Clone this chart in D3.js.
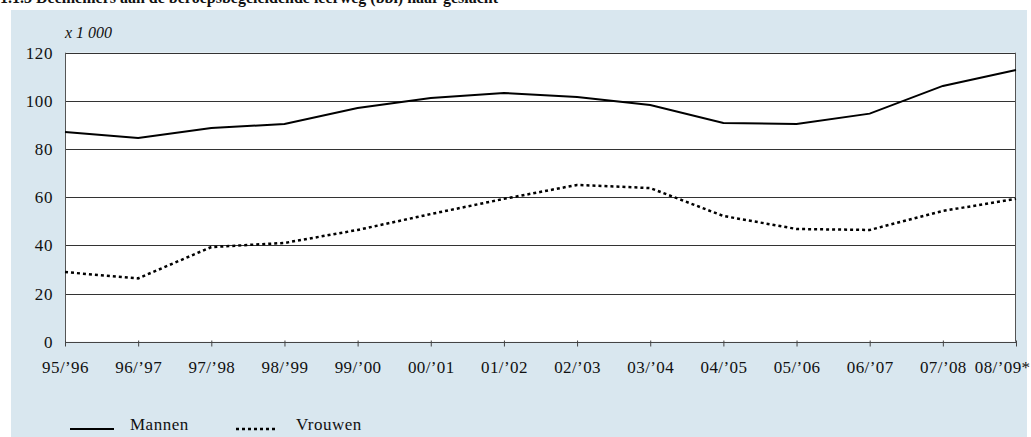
<!DOCTYPE html>
<html><head><meta charset="utf-8">
<script src="https://cdn.jsdelivr.net/npm/d3@7"></script>
<style>
body{margin:0;background:#fff;}
svg{display:block;font-family:"Liberation Serif","DejaVu Serif",serif;}
</style></head>
<body><svg id="c" width="1031" height="437"></svg>
<script>
const categories = ["95/\u201996","96/\u201997","97/\u201998","98/\u201999","99/\u201900","00/\u201901","01/\u201902","02/\u201903","03/\u201904","04/\u201905","05/\u201906","06/\u201907","07/\u201908","08/\u201909*"];
const mannen = [87.1,84.6,88.7,90.4,97.0,101.2,103.3,101.6,98.3,90.8,90.4,94.7,106.2,112.8];
const vrouwen = [28.9,26.3,39.3,41.0,46.4,53.0,59.3,65.1,63.8,52.2,46.8,46.4,54.3,59.3];
const yTicks = [0,20,40,60,80,100,120];
const title = "1.1.3 Deelnemers aan de beroepsbegeleidende leerweg (bbl) naar geslacht";

const svg = d3.select("#c");
svg.append("rect").attr("x",11).attr("y",10).attr("width",1016).attr("height",427).attr("fill","#d9e7ef");
svg.append("text").attr("x",0).attr("y",3).attr("font-size",16).attr("font-weight","bold").attr("fill","#111").text(title);

const L=65,R=1016,T=52.7,B=341.7;
const x = d3.scalePoint().domain(categories).range([L,R]);
const y = d3.scaleLinear().domain([0,120]).range([B,T]);

svg.append("rect").attr("x",L).attr("y",T).attr("width",R-L).attr("height",B-T).attr("fill","#fff");

svg.append("g").selectAll("line").data(yTicks.filter(d=>d>0)).enter().append("line")
  .attr("x1",L).attr("x2",R).attr("y1",d=>Math.round(y(d))+0.5).attr("y2",d=>Math.round(y(d))+0.5)
  .attr("stroke","#333").attr("stroke-width",1);

svg.append("line").attr("x1",L+0.5).attr("x2",L+0.5).attr("y1",T).attr("y2",B).attr("stroke","#555");
svg.append("line").attr("x1",R-0.5).attr("x2",R-0.5).attr("y1",T).attr("y2",B).attr("stroke","#555");

svg.append("g").selectAll("text").data(yTicks).enter().append("text")
  .attr("x",53).attr("y",d=>y(d)+6).attr("text-anchor","end").attr("font-size",17)
  .attr("letter-spacing","0.6").attr("fill","#111").text(d=>d);

const xa = svg.append("g").attr("transform",`translate(0,${Math.round(B)+0.5})`)
  .call(d3.axisBottom(x).tickSize(6).tickPadding(12).tickSizeOuter(0));
xa.select(".domain").attr("stroke","#444").attr("d",`M${L},0H${R}`);
xa.selectAll(".tick line").attr("stroke","#444").attr("y1",-2).attr("y2",4);
xa.selectAll(".tick text").attr("font-size",17).attr("letter-spacing","0.4").attr("fill","#111")
  .attr("font-family","Liberation Serif, serif")
  .filter(d=>d===categories[categories.length-1]).attr("text-anchor","end").attr("x",1030-R);

svg.append("text").attr("x",65).attr("y",38).attr("font-size",16).attr("font-style","italic").attr("fill","#111").text("x 1 000");

const line = d3.line().x((d,i)=>x(categories[i])).y(d=>y(d));
svg.append("path").datum(mannen).attr("d",line).attr("fill","none").attr("stroke","#000").attr("stroke-width",2);
svg.append("path").datum(vrouwen).attr("d",line).attr("fill","none").attr("stroke","#000").attr("stroke-width",2.5).attr("stroke-dasharray","3,3");

svg.append("line").attr("x1",70).attr("x2",114).attr("y1",429).attr("y2",429).attr("stroke","#000").attr("stroke-width",2);
svg.append("text").attr("x",130).attr("y",430).attr("font-size",17).attr("letter-spacing","0.5").attr("fill","#111").text("Mannen");
svg.append("line").attr("x1",236).attr("x2",276).attr("y1",429).attr("y2",429).attr("stroke","#000").attr("stroke-width",2.5).attr("stroke-dasharray","3,3");
svg.append("text").attr("x",296).attr("y",430).attr("font-size",17).attr("letter-spacing","0.5").attr("fill","#111").text("Vrouwen");
</script></body></html>
